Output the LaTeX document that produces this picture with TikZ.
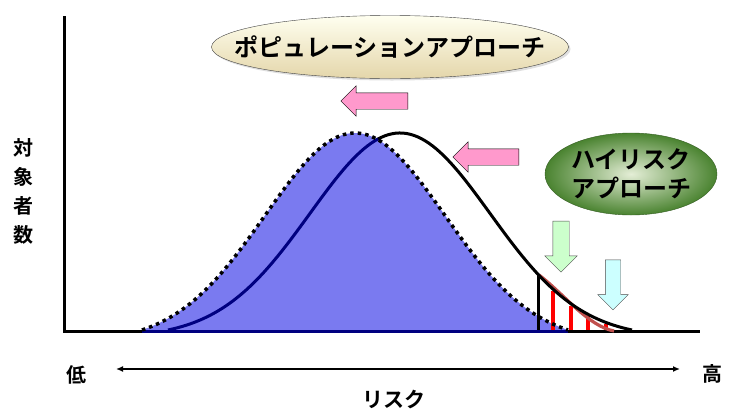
\documentclass[tikz,border=0pt]{standalone}
\usepackage{fontspec}
\usetikzlibrary{arrows.meta,shapes.geometric,shapes.arrows,shadows}
\newfontfamily\jp{Noto Sans CJK JP}[BoldFont={* Bold}]
\definecolor{navy}{HTML}{000080}
\definecolor{popblue}{HTML}{7A7AF0}
\definecolor{pinkfill}{HTML}{FF99CC}
\definecolor{mint}{HTML}{CCFFCC}
\definecolor{aqua}{HTML}{CCFFFF}
\definecolor{tailred}{HTML}{C0504D}
\definecolor{leaf}{HTML}{4A8330}

\begin{document}
\begin{tikzpicture}[x=1pt,y=-1pt,>=Latex,
  declare function={g(\d)=exp(-(\d/90)^2/2);
    highcurve(\x)=330-197*(g(\x-400)-g(232))/(1-g(232));
    popcurve(\x)=330-197*(g(\x-355)-g(213))/(1-g(213));},
  every node/.style={font=\jp\bfseries\fontsize{20}{29}\selectfont},
  shiftarrow/.style={single arrow,draw=black,thin,inner sep=0pt,single arrow tip angle=90}]
\useasboundingbox (0,0) rectangle (736,410);
% axes
\draw[line width=3pt] (64.5,16) -- (64.5,331) -- (700,331);
% population curve (shifted)
\fill[popblue] (142,330) -- plot[domain=142:568,samples=90] (\x,{popcurve(\x)}) -- (568,330) -- cycle;
\draw[navy,line width=3pt] (142,331) -- (568,331);
% high risk tail
\draw[line width=3pt] (538,{highcurve(538)}) -- (538,330);
\foreach \x in {553,571,588,606}{\draw[red,line width=3.2pt] (\x,{highcurve(\x)+2}) -- (\x,330);}
\draw[tailred,line width=3.2pt] (539,275) .. controls (565,295) and (588,326) .. (614,331);
% original curve
\draw[line width=3pt] plot[domain=377:632,samples=70] (\x,{highcurve(\x)});
\draw[navy,line width=3pt] plot[domain=168:378,samples=60] (\x,{highcurve(\x)});
\draw[line width=3.5pt,dash pattern=on 3.5pt off 4pt] plot[domain=142:568,samples=90] (\x,{popcurve(\x)});
% shift arrows
\node[shiftarrow,fill=pinkfill,shape border rotate=180,minimum height=67pt,inner ysep=8pt,single arrow head extend=7pt] (popshift) at (378.5,101) {};
\node[shiftarrow,fill=pinkfill,shape border rotate=180,minimum height=66pt,inner ysep=8pt,single arrow head extend=7pt] (curveshift) at (490,157) {};
\node[shiftarrow,draw=gray!60!black,fill=mint,shape border rotate=270,minimum height=51pt,inner xsep=8pt,single arrow head extend=8pt] (riskdown) at (561,242.5) {};
\node[shiftarrow,draw=gray!60!black,fill=aqua,shape border rotate=270,minimum height=50pt,inner xsep=7.5pt,single arrow head extend=7.5pt] (taildown) at (613,281) {};
% labels
\node[ellipse,draw=black!75,top color=yellow!6!white,bottom color={rgb,255:red,228;green,214;blue,170},minimum width=357pt,minimum height=63pt,drop shadow={opacity=.25,shadow xshift=2pt,shadow yshift=-2pt}] (popbox) at (390,47) {};
\node[font=\jp\bfseries\fontsize{24}{29}\selectfont] (poptext) at (popbox) {ポピュレーションアプローチ};
\node[ellipse,draw=leaf!70!black,shading=radial,inner color={rgb,255:red,228;green,238;blue,214},outer color=leaf,minimum width=172pt,minimum height=82pt] (riskbox) at (631,174) {};
\node[font=\jp\bfseries\fontsize{24}{29}\selectfont,align=center] (risktext) at (riskbox) {ハイリスク\\アプローチ};
\node[align=center] (count) at (23,191) {対\\象\\者\\数};
\node (low) at (76,375) {低};
\node (high) at (712,374) {高};
\node[font=\jp\bfseries\fontsize{21}{29}\selectfont] (risk) at (394,399) {リスク};
\coordinate (lowend) at (116,369);
\coordinate (highend) at (680,369);
\draw[{Latex[length=7pt,width=6pt]}-{Latex[length=7pt,width=6pt]},line width=2pt] (lowend) -- (highend);
\end{tikzpicture}
\end{document}
